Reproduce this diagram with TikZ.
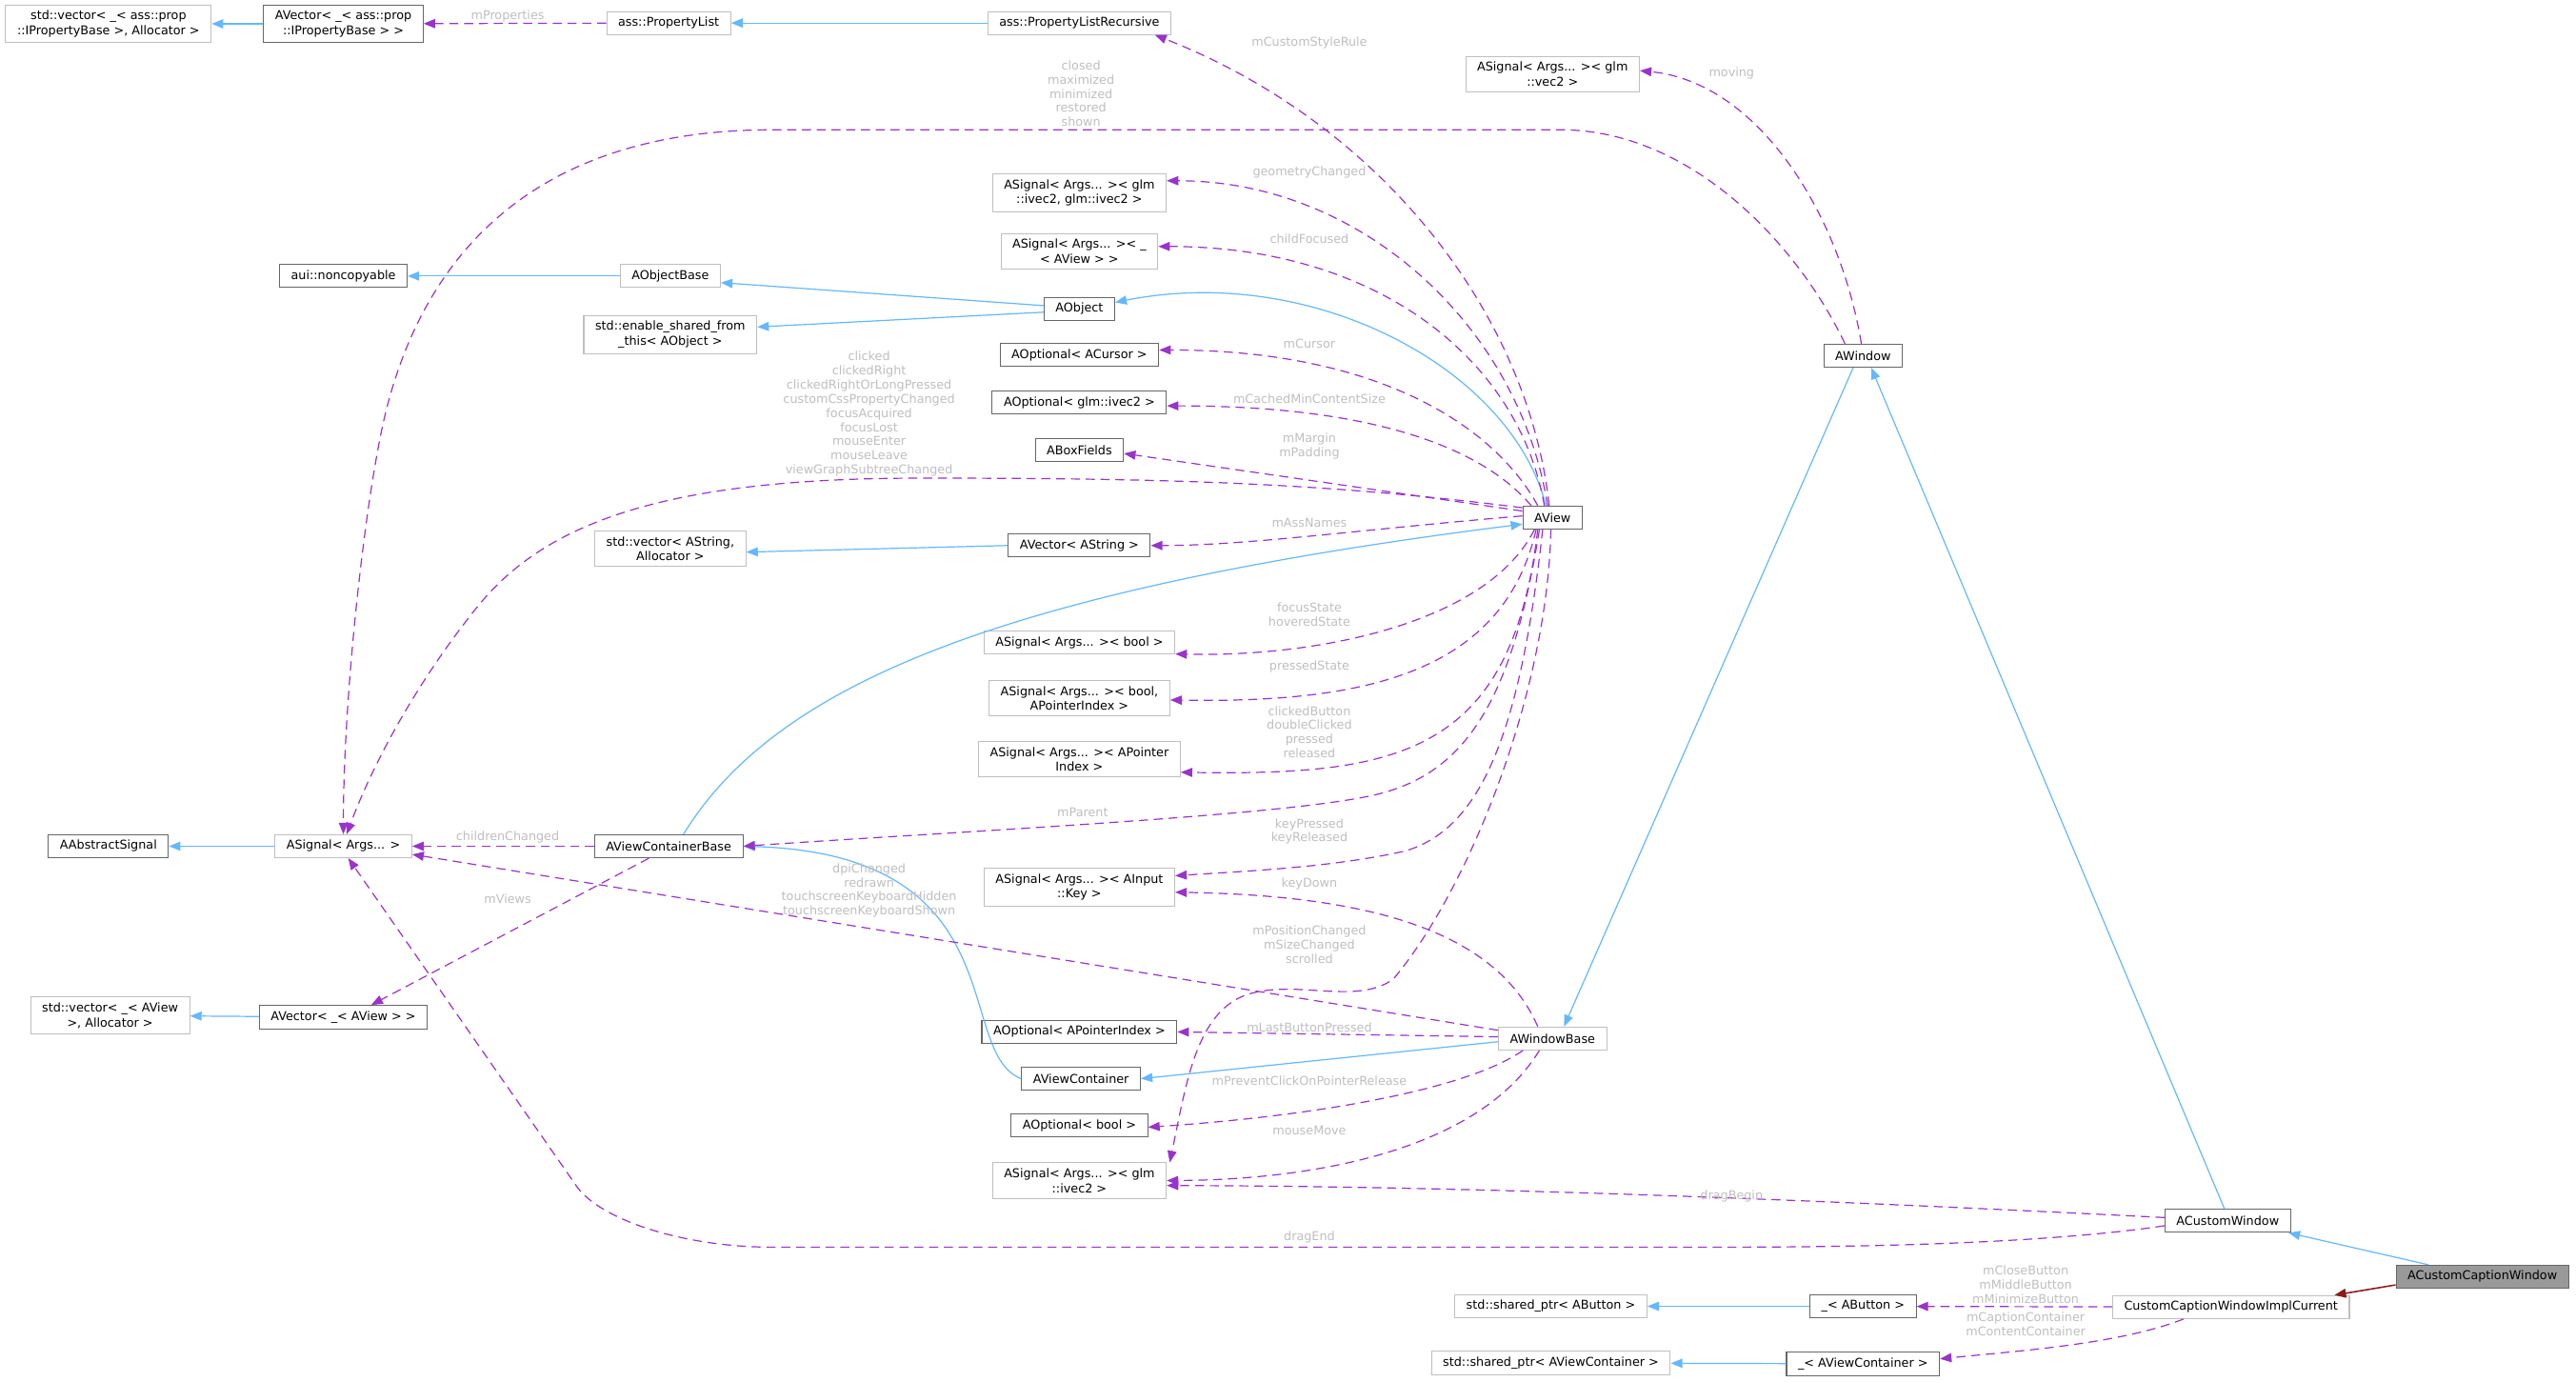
\documentclass[tikz,border=0pt]{standalone}
\usepackage{fontspec}
\setmainfont{DejaVu Sans}
\usepackage{tikz}
\usetikzlibrary{arrows.meta}

\definecolor{inhblue}{HTML}{63B8FF}
\definecolor{usepurple}{HTML}{9A32CD}
\definecolor{ownred}{HTML}{8B1A1A}
\definecolor{boxdark}{HTML}{666666}
\definecolor{boxlight}{HTML}{BFBFBF}
\definecolor{focusfill}{HTML}{999999}
\definecolor{lblgray}{HTML}{BEBEBE}

\begin{document}
\begin{tikzpicture}[
    x=1pt, y=-1pt,
    cls/.style={rectangle, draw=boxdark, fill=white, line width=0.6pt, inner xsep=7pt, inner ysep=3.4pt, minimum height=14pt, align=center, font=\fontsize{7.4}{9}\selectfont},
    clsdim/.style={cls, draw=boxlight},
    clsfocus/.style={cls, fill=focusfill},
    lbl/.style={inner sep=0pt, align=center, text=lblgray, font=\fontsize{7.4}{8.6}\selectfont},
    inherit/.style={draw=inhblue, line width=0.7pt, -{Triangle[length=7pt,width=5.5pt]}},
    member/.style={draw=usepurple, line width=0.7pt, dash pattern=on 5.5pt off 3.5pt, -{Triangle[length=7pt,width=5.5pt]}},
    owner/.style={draw=ownred, line width=0.9pt, -{Triangle[length=7pt,width=5.5pt]}}
]
    \useasboundingbox (0,0) rectangle (1568,841);

    % Classes
    \node[clsdim] (stdvecprop) at (66,14.5) {std::vector< \_< ass::prop\\::IPropertyBase >, Allocator >};
    \node[cls] (avecprop) at (209,14.5) {AVector< \_< ass::prop\\::IPropertyBase > >};
    \node[clsdim] (proplist) at (407,14) {ass::PropertyList};
    \node[clsdim] (proplistrec) at (657,14) {ass::PropertyListRecursive};
    \node[clsdim] (sigvec) at (945,45) {ASignal< Args... >< glm\\::vec2 >};
    \node[clsdim] (sigivecpair) at (657,117.5) {ASignal< Args... >< glm\\::ivec2, glm::ivec2 >};
    \node[clsdim] (sigaview) at (657,153) {ASignal< Args... >< \_\\< AView > >};
    \node[cls] (noncopy) at (209,168) {aui::noncopyable};
    \node[clsdim] (aobjectbase) at (408,168) {AObjectBase};
    \node[cls] (aobject) at (657,188) {AObject};
    \node[clsdim] (enableshared) at (408,203.5) {std::enable\_shared\_from\\\_this< AObject >};
    \node[cls] (optcursor) at (657,216) {AOptional< ACursor >};
    \node[cls] (optivec) at (657,245) {AOptional< glm::ivec2 >};
    \node[cls] (boxfields) at (657,274) {ABoxFields};
    \node[cls] (awindow) at (1134,216.5) {AWindow};
    \node[cls] (aview) at (945,315) {AView};
    \node[clsdim] (stdvecastr) at (408,334) {std::vector< AString,\\Allocator >};
    \node[cls] (avecastr) at (657,332) {AVector< AString >};
    \node[clsdim] (sigbool) at (657,391) {ASignal< Args... >< bool >};
    \node[clsdim] (sigboolptr) at (657,425) {ASignal< Args... >< bool,\\APointerIndex >};
    \node[clsdim] (sigptr) at (657,462) {ASignal< Args... >< APointer\\Index >};
    \node[cls] (aabstract) at (66,515) {AAbstractSignal};
    \node[clsdim] (sigargs) at (209,515) {ASignal< Args... >};
    \node[cls] (avcbase) at (407,515) {AViewContainerBase};
    \node[clsdim] (siginput) at (657,540) {ASignal< Args... >< AInput\\::Key >};
    \node[clsdim] (stdvecaview) at (67,618) {std::vector< \_< AView\\>, Allocator >};
    \node[cls] (avecaview) at (209,619) {AVector< \_< AView > >};
    \node[cls] (optptr) at (657,628) {AOptional< APointerIndex >};
    \node[clsdim] (awinbase) at (945,632) {AWindowBase};
    \node[cls] (avc) at (658,656.5) {AViewContainer};
    \node[cls] (optbool) at (657,685) {AOptional< bool >};
    \node[clsdim] (sigivec) at (657,718.5) {ASignal< Args... >< glm\\::ivec2 >};
    \node[cls] (acustomwin) at (1356,743) {ACustomWindow};
    \node[clsfocus] (acaption) at (1511,777) {ACustomCaptionWindow};
    \node[clsdim] (ccwic) at (1358,795.5) {CustomCaptionWindowImplCurrent};
    \node[clsdim] (sharedbtn) at (944,795) {std::shared\_ptr< AButton >};
    \node[cls] (ubtn) at (1134,795) {\_< AButton >};
    \node[clsdim] (sharedavc) at (944,829.5) {std::shared\_ptr< AViewContainer >};
    \node[cls] (uavc) at (1134,830) {\_< AViewContainer >};

    % Inheritance
    \draw[inherit] (avecprop) -- (stdvecprop);
    \draw[inherit] (proplistrec) -- (proplist);
    \draw[inherit] (aobjectbase) -- (noncopy);
    \draw[inherit] ([yshift=2pt]aobject.west) -- ([yshift=-4pt]aobjectbase.east);
    \draw[inherit] ([yshift=-2pt]aobject.west) -- ([yshift=4.5pt]enableshared.east);
    \draw[inherit] ([xshift=-4pt]aview.north) .. controls (920,225) and (800,160) .. ([yshift=4pt]aobject.east);
    \draw[inherit] (avecastr.west) -- ([yshift=-2pt]stdvecastr.east);
    \draw[inherit] ([xshift=9pt]avcbase.north) .. controls (470,420) and (600,360) .. ([yshift=-4pt]aview.west);
    \draw[inherit] (sigargs) -- (aabstract);
    \draw[inherit] (avecaview) -- (stdvecaview);
    \draw[inherit] (avc.west) .. controls (580,640) and (620,520) .. (avcbase.east);
    \draw[inherit] ([yshift=-2pt]awinbase.west) -- (avc.east);
    \draw[inherit] ([xshift=-6pt]awindow.south) -- ([xshift=7pt]awinbase.north);
    \draw[inherit] ([xshift=-2pt]acustomwin.north) -- ([xshift=5pt]awindow.south);
    \draw[inherit] ([xshift=-33pt]acaption.north) -- ([xshift=37pt]acustomwin.south);
    \draw[inherit] (ubtn) -- (sharedbtn);
    \draw[inherit] (uavc) -- (sharedavc);
    \draw[owner] ([yshift=-5pt]acaption.west) -- ([xshift=63pt]ccwic.north);

    % Members
    \draw[member] (proplist) -- (avecprop);
    \draw[member] ([xshift=-2pt]aview.north) .. controls (930,190) and (840,75) .. ([xshift=46pt]proplistrec.south);
    \draw[member] ([xshift=-1pt]awindow.north) .. controls (1120,130) and (1070,50) .. ([yshift=2pt]sigvec.east);
    \draw[member] ([xshift=-11pt]awindow.north) .. controls (1095,150) and (1030,79) .. (950,79) -- (470,79)
        .. controls (330,79) and (260,150) .. (235,250) .. controls (223,298) and (209,420) .. (sigargs.north);
    \draw[member] ([xshift=-3pt]aview.north) .. controls (925,200) and (830,110) .. ([yshift=7.5pt]sigivecpair.east);
    \draw[member] ([xshift=-5pt]aview.north) .. controls (925,220) and (840,150) .. ([yshift=3pt]sigaview.east);
    \draw[member] ([xshift=-9pt]aview.north) .. controls (910,260) and (840,213) .. ([yshift=3pt]optcursor.east);
    \draw[member] ([xshift=-13pt]aview.north) .. controls (900,270) and (830,247) .. ([yshift=-2pt]optivec.east);
    \draw[member] ([yshift=4pt]aview.west) -- ([yshift=-2pt]boxfields.east);
    \draw[member] ([yshift=6pt]aview.west) .. controls (800,293) and (700,291) .. (560,291)
        .. controls (400,291) and (330,320) .. (290,370) .. controls (250,420) and (225,470) .. ([xshift=2pt]sigargs.north);
    \draw[member] ([yshift=1pt]aview.west) .. controls (830,322) and (760,332) .. (avecastr.east);
    \draw[member] ([xshift=-11pt]aview.south) .. controls (905,380) and (800,400) .. ([yshift=-7pt]sigbool.east);
    \draw[member] ([xshift=-10pt]aview.south) .. controls (915,410) and (830,428) .. ([yshift=-1pt]sigboolptr.east);
    \draw[member] ([xshift=-9pt]aview.south) .. controls (920,460) and (850,472) .. ([yshift=-8pt]sigptr.east);
    \draw[member] ([xshift=-8pt]aview.south) .. controls (920,430) and (890,470) .. (840,483)
        .. controls (790,496) and (600,505) .. (avcbase.east);
    \draw[member] ([xshift=-6pt]aview.south) .. controls (925,450) and (900,505) .. (855,518)
        .. controls (810,528) and (760,530) .. ([yshift=7pt]siginput.east);
    \draw[member] ([xshift=-1pt]aview.south) .. controls (942,420) and (895,540) .. (848,596)
        .. controls (825,612) and (790,596) .. (760,605) .. controls (728,615) and (722,660) .. ([xshift=55pt]sigivec.north);
    \draw[member] (avcbase) -- (sigargs);
    \draw[member] ([xshift=-12pt]avcbase.south) -- ([xshift=17pt]avecaview.north);
    \draw[member] ([yshift=5pt]awinbase.west) -- ([yshift=-5pt]sigargs.east);
    \draw[member] ([xshift=-9pt]awinbase.north) .. controls (910,565) and (830,545) .. ([yshift=-3pt]siginput.east);
    \draw[member] ([yshift=1pt]awinbase.west) -- (optptr.east);
    \draw[member] ([xshift=-18pt]awinbase.south) .. controls (890,665) and (790,680) .. ([yshift=-1pt]optbool.east);
    \draw[member] ([xshift=-8pt]awinbase.south) .. controls (900,700) and (800,718) .. (sigivec.east);
    \draw[member] ([yshift=2pt]acustomwin.west) .. controls (1100,730) and (900,722) .. ([yshift=-3pt]sigivec.east);
    \draw[member] ([yshift=-3pt]acustomwin.west) .. controls (1250,756) and (1150,759) .. (1050,759) -- (470,759)
        .. controls (415,759) and (365,742) .. (351,722) -- ([xshift=3pt]sigargs.south);
    \draw[member] (ccwic) -- (ubtn);
    \draw[member] ([xshift=-29pt]ccwic.south) .. controls (1290,818) and (1230,822) .. ([yshift=3pt]uavc.east);

    % Member names
    \node[lbl] (lProps) at (309,10) {mProperties};
    \node[lbl] (lStyle) at (797,26) {mCustomStyleRule};
    \node[lbl] (lWinSig) at (658,57) {closed\\maximized\\minimized\\restored\\shown};
    \node[lbl] (lMoving) at (1054,44.5) {moving};
    \node[lbl] (lGeom) at (797,105) {geometryChanged};
    \node[lbl] (lChild) at (797,145.5) {childFocused};
    \node[lbl] (lCursor) at (797,209) {mCursor};
    \node[lbl] (lMinSize) at (797,243) {mCachedMinContentSize};
    \node[lbl] (lMargin) at (797,271.5) {mMargin\\mPadding};
    \node[lbl] (lViewSig) at (529,252) {clicked\\clickedRight\\clickedRightOrLongPressed\\customCssPropertyChanged\\focusAcquired\\focusLost\\mouseEnter\\mouseLeave\\viewGraphSubtreeChanged};
    \node[lbl] (lAss) at (797,318) {mAssNames};
    \node[lbl] (lFocus) at (797,374) {focusState\\hoveredState};
    \node[lbl] (lPressed) at (797,406) {pressedState};
    \node[lbl] (lClickBtn) at (797,445.5) {clickedButton\\doubleClicked\\pressed\\released};
    \node[lbl] (lParent) at (659,494.5) {mParent};
    \node[lbl] (lKeys) at (797,506) {keyPressed\\keyReleased};
    \node[lbl] (lChildren) at (309,509.5) {childrenChanged};
    \node[lbl] (lBaseSig) at (529,542) {dpiChanged\\redrawn\\touchscreenKeyboardHidden\\touchscreenKeyboardShown};
    \node[lbl] (lKeyDown) at (797,538) {keyDown};
    \node[lbl] (lViews) at (309,547) {mViews};
    \node[lbl] (lPos) at (797,575) {mPositionChanged\\mSizeChanged\\scrolled};
    \node[lbl] (lLastBtn) at (797,625.5) {mLastButtonPressed};
    \node[lbl] (lPrevent) at (797,657.5) {mPreventClickOnPointerRelease};
    \node[lbl] (lMouse) at (797,688) {mouseMove};
    \node[lbl] (lDragBegin) at (1054,728) {dragBegin};
    \node[lbl] (lDragEnd) at (797,753) {dragEnd};
    \node[lbl] (lBtns) at (1233,782) {mCloseButton\\mMiddleButton\\mMinimizeButton};
    \node[lbl] (lConts) at (1233,806) {mCaptionContainer\\mContentContainer};
\end{tikzpicture}
\end{document}
